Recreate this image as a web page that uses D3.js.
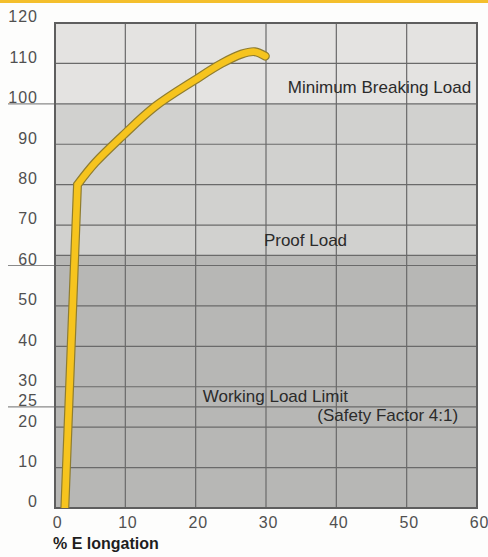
<!DOCTYPE html>
<html>
<head>
<meta charset="utf-8">
<script src="https://cdn.jsdelivr.net/npm/d3@7"></script>
<style>
  html, body { margin: 0; padding: 0; background: #fdfdfc; }
  svg { display: block; }
  text { font-family: "Liberation Sans", Arial, Helvetica, sans-serif; }
</style>
</head>
<body>
<svg id="chart" width="488" height="557"></svg>
<script>
// Load vs. elongation curve (percent of minimum breaking load)
const elongation = [1.4, 3.2, 5.7, 9.5, 14.2, 19.9, 23.7, 26.5, 28.4, 29.9];
const load       = [0,   80,  85.4, 91.9, 99.3, 105.9, 110, 112.3, 112.9, 111.8];

// Load zones: [from, to]
const zoneBounds = [[100, 120], [62.5, 100], [0, 62.5]];
const zoneColors = ["#e4e3e1", "#d1d1cf", "#b7b7b5"];

// Axis ticks
const xTicks = [0, 10, 20, 30, 40, 50, 60];
const yTicks = [0, 10, 20, 25, 30, 40, 50, 60, 70, 80, 90, 100, 110, 120];
const yGrid  = [10, 20, 25, 30, 40, 50, 60, 62.5, 70, 80, 90, 100, 110];
const yMarks = [25, 60, 100];

// Zone labels
const zoneLabels = [
  { text: "Minimum Breaking Load", x: 33.1, y: 102.7 },
  { text: "Proof Load",            x: 29.7, y: 64.9 },
  { text: "Working Load Limit",    x: 21.0, y: 26.2 },
  { text: "(Safety Factor 4:1)",   x: 37.3, y: 21.5 }
];

const svg = d3.select("#chart");
const x = d3.scaleLinear([0, 60], [55, 477]);
const y = d3.scaleLinear([0, 120], [508, 23]);

// Top yellow rule
svg.append("rect").attr("x", 0).attr("y", 0).attr("width", 488).attr("height", 3)
  .attr("fill", "#f4bf2c");

// Zone bands
svg.append("g").selectAll("rect").data(zoneBounds).join("rect")
  .attr("x", x(0)).attr("width", x(60) - x(0))
  .attr("y", d => y(d[1])).attr("height", d => y(d[0]) - y(d[1]))
  .attr("fill", (d, i) => zoneColors[i]);

// Horizontal grid
svg.append("g").selectAll("line").data(yGrid).join("line")
  .attr("x1", x(0)).attr("x2", x(60))
  .attr("y1", d => y(d)).attr("y2", d => y(d))
  .attr("stroke", "#6a6a6a").attr("stroke-width", 1.2);

// Vertical grid
svg.append("g").selectAll("line").data(xTicks.slice(1, -1)).join("line")
  .attr("x1", d => x(d)).attr("x2", d => x(d))
  .attr("y1", y(120)).attr("y2", y(0))
  .attr("stroke", "#6a6a6a").attr("stroke-width", 1.2);

// Threshold markers reaching into the label column
svg.append("g").selectAll("line").data(yMarks).join("line")
  .attr("x1", 8).attr("x2", x(0))
  .attr("y1", d => y(d)).attr("y2", d => y(d))
  .attr("stroke", "#8a8a8a").attr("stroke-width", 1.2);

// Plot frame
svg.append("rect")
  .attr("x", x(0)).attr("y", y(120))
  .attr("width", x(60) - x(0)).attr("height", y(0) - y(120))
  .attr("fill", "none").attr("stroke", "#5e5e5e").attr("stroke-width", 2);

// Curve: straight elastic part, then smooth plastic part
const pts = elongation.map((e, i) => [x(e), y(load[i])]);
const elastic = d3.line()(pts.slice(0, 2));
const plastic = d3.line().curve(d3.curveCatmullRom)(pts.slice(1));
const curvePath = elastic + plastic.replace(/^M[^A-Za-z]*/, "");

svg.append("clipPath").attr("id", "plotClip").append("rect")
  .attr("x", x(0)).attr("y", y(120)).attr("width", x(60) - x(0)).attr("height", y(0) - y(120));

const cg = svg.append("g").attr("clip-path", "url(#plotClip)");
cg.append("path").attr("d", curvePath)
  .attr("fill", "none").attr("stroke", "#8f7d30").attr("stroke-width", 9)
  .attr("stroke-linejoin", "miter").attr("stroke-linecap", "round");
cg.append("path").attr("d", curvePath)
  .attr("fill", "none").attr("stroke", "#f6c41e").attr("stroke-width", 6.6)
  .attr("stroke-linejoin", "miter").attr("stroke-linecap", "round");

// Zone labels
svg.append("g").selectAll("text").data(zoneLabels).join("text")
  .attr("x", d => x(d.x)).attr("y", d => y(d.y))
  .attr("font-size", 17).attr("fill", "#2b2b2b")
  .text(d => d.text);

// Y axis labels
const yAxis = svg.append("g").attr("transform", "translate(38,0)")
  .call(d3.axisLeft(y).tickValues(yTicks).tickSize(0).tickPadding(0));
yAxis.select(".domain").remove();
yAxis.selectAll("text")
  .attr("dy", "-0.07em").attr("font-size", 16).attr("fill", "#505050")
  .attr("font-family", "\"Liberation Sans\", Arial, sans-serif")
  .attr("letter-spacing", 1);

// X axis labels
const xAxis = svg.append("g").attr("transform", `translate(2,${y(0)})`)
  .call(d3.axisBottom(x).tickValues(xTicks).tickSize(0).tickPadding(0));
xAxis.select(".domain").remove();
xAxis.selectAll("text")
  .attr("y", 20).attr("dy", 0).attr("font-size", 16).attr("fill", "#505050")
  .attr("font-family", "\"Liberation Sans\", Arial, sans-serif")
  .attr("letter-spacing", 0.8);

// Axis title
svg.append("text").attr("x", 53).attr("y", 549)
  .attr("font-size", 16).attr("font-weight", "bold").attr("fill", "#1e1e1e")
  .text("% E longation");
</script>
</body>
</html>
